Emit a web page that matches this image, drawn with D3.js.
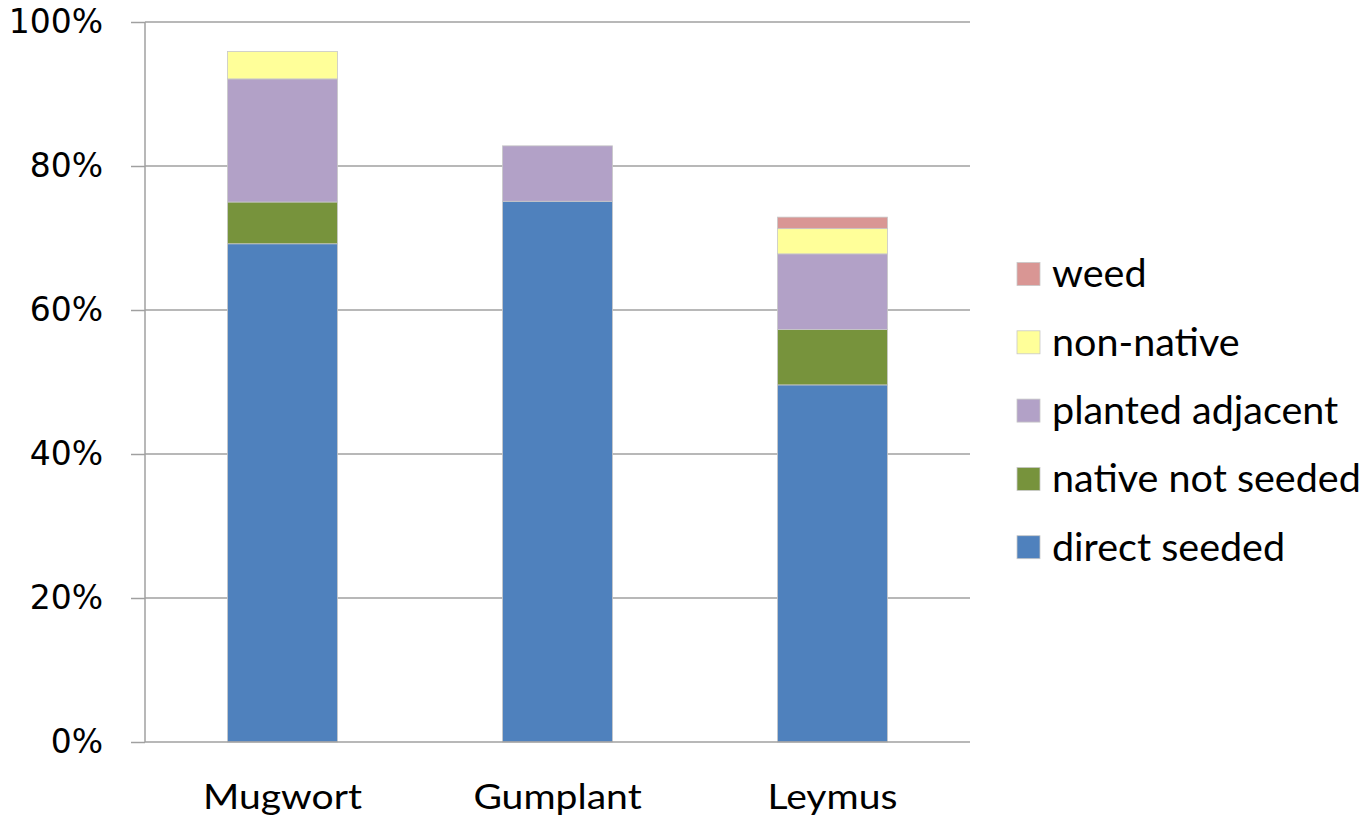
<!DOCTYPE html>
<html>
<head>
<meta charset="utf-8">
<script src="https://cdn.jsdelivr.net/npm/d3@7"></script>
<style>
  body { margin: 0; background: #fff; }
  text { fill: #000; }
</style>
</head>
<body>
<div id="container"></div>
<script>
// data (percent of cover)
const categories = ["Mugwort", "Gumplant", "Leymus"];
const seriesNames = ["direct seeded", "native not seeded", "planted adjacent", "non-native", "weed"];
const directSeeded = [69.2, 75.1, 49.6];
const nativeNotSeeded = [5.8, 0, 7.7];
const plantedAdjacent = [17.1, 7.7, 10.5];
const nonNative = [3.8, 0, 3.5];
const weed = [0, 0, 1.6];
const yTicks = [0, 20, 40, 60, 80, 100];

const colors = ["#4F81BD", "#77933C", "#B2A1C7", "#FFFF99", "#D99694"];

const width = 1369;
const height = 820;
const plotLeft = 145, plotRight = 970, plotTop = 22, plotBottom = 742;

const rows = categories.map((c, i) => ({
  cat: c,
  "direct seeded": directSeeded[i],
  "native not seeded": nativeNotSeeded[i],
  "planted adjacent": plantedAdjacent[i],
  "non-native": nonNative[i],
  "weed": weed[i]
}));

const stacked = d3.stack().keys(seriesNames)(rows);

const x = d3.scaleBand()
  .domain(categories)
  .range([plotLeft, plotRight])
  .paddingInner(0.6)
  .paddingOuter(0.3);

const y = d3.scaleLinear()
  .domain([0, 100])
  .range([plotBottom, plotTop]);

const svg = d3.select("#container").append("svg")
  .attr("width", width)
  .attr("height", height);

// gridlines
svg.append("g")
  .selectAll("line")
  .data(yTicks.filter(t => t > 0))
  .enter().append("line")
  .attr("x1", plotLeft).attr("x2", plotRight)
  .attr("y1", d => y(d)).attr("y2", d => y(d))
  .attr("stroke", "#a0a0a0")
  .attr("stroke-width", 1.5);

// y axis
const yAxis = svg.append("g")
  .attr("transform", "translate(" + plotLeft + ",0)")
  .call(d3.axisLeft(y).tickValues(yTicks).tickSize(14).tickFormat(d => d + "%"));
yAxis.selectAll("path, line").attr("stroke", "#a0a0a0").attr("stroke-width", 1.5);
yAxis.select(".domain").attr("d", "M0," + plotTop + "V" + plotBottom);
yAxis.selectAll("text")
  .attr("x", -42)
  .attr("font-family", "DejaVu Sans")
  .attr("font-size", 33)
  .attr("fill", "#000");

// bars
svg.append("g")
  .selectAll("g")
  .data(stacked)
  .enter().append("g")
  .attr("fill", (d, i) => colors[i])
  .each(function(series) {
    d3.select(this).selectAll("rect")
      .data(series.filter(p => p[1] - p[0] > 0))
      .enter().append("rect")
      .attr("x", p => x(p.data.cat))
      .attr("width", x.bandwidth())
      .attr("y", p => y(p[1]))
      .attr("height", p => y(p[0]) - y(p[1]))
      .attr("stroke", "#c8c8c8")
      .attr("stroke-width", 0.8);
  });

// x axis
const xAxis = svg.append("g")
  .attr("transform", "translate(0," + plotBottom + ")")
  .call(d3.axisBottom(x).tickSize(0).tickPadding(43));
xAxis.select(".domain").attr("d", "M" + plotLeft + ",0H" + plotRight).attr("stroke", "#a0a0a0").attr("stroke-width", 1.5);
xAxis.selectAll("text")
  .attr("font-family", "Lato")
  .attr("font-size", 34)
  .attr("transform", "scale(1.15,1)")
  .attr("fill", "#000");

// legend (weed at top)
const legend = svg.append("g")
  .selectAll("g")
  .data(seriesNames.slice().reverse())
  .enter().append("g")
  .attr("transform", (d, i) => "translate(1017," + (274 + i * 68.3) + ")");
legend.append("rect")
  .attr("x", 0).attr("y", -11.5)
  .attr("width", 23).attr("height", 23)
  .attr("fill", d => colors[seriesNames.indexOf(d)])
  .attr("stroke", "#c8c8c8")
  .attr("stroke-width", 0.8);
legend.append("text")
  .attr("transform", "translate(35,0) scale(1.04,1)")
  .attr("dy", "0.35em")
  .attr("font-family", "Lato")
  .attr("font-size", 38)
  .text(d => d);
</script>
</body>
</html>
